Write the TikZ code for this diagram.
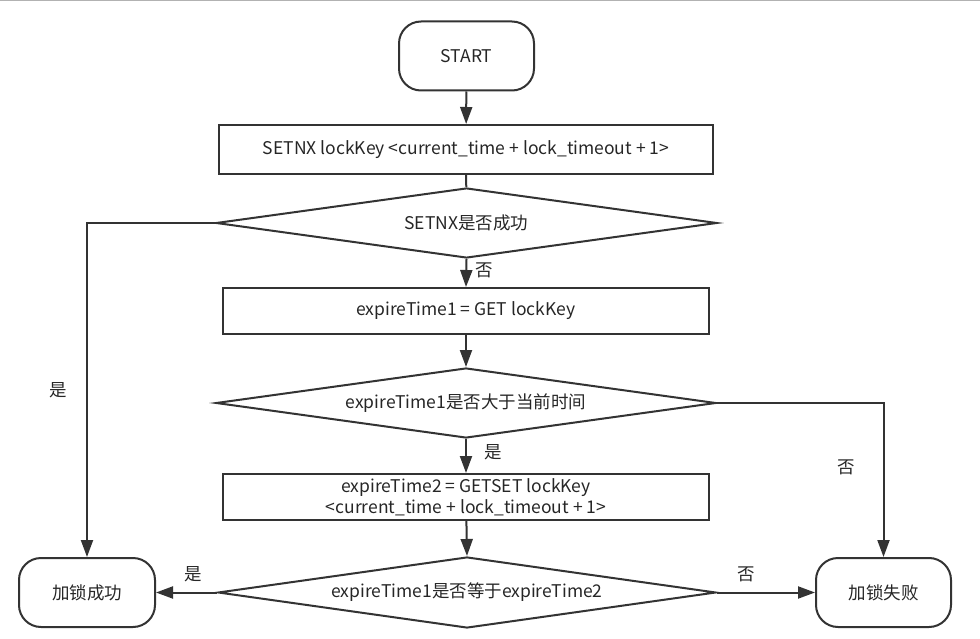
\documentclass[tikz,border=0pt]{standalone}
\usepackage{fontspec}
\setmainfont{Noto Sans CJK SC}
\usetikzlibrary{shapes.geometric,arrows.meta}

\begin{document}
\begin{tikzpicture}[x=1pt,y=-1pt,
    line width=2pt, draw=black!80,
    every node/.style={font=\fontsize{17.5}{21}\selectfont, text=black!85},
    term/.style={draw, rectangle, rounded corners=22pt, minimum width=135pt, minimum height=69pt},
    proc/.style={draw, rectangle, minimum width=486pt, minimum height=46pt, align=center, inner sep=0pt},
    test/.style={draw, diamond, aspect=7, inner sep=0pt, minimum width=500pt, minimum height=70pt},
    flow/.style={-{Triangle[length=17pt,width=12pt]}}]
    \useasboundingbox (0,0) rectangle (980,639);
    \draw[black!30, line width=1pt] (0,0.5) -- (980,0.5);
    \node[term] (start) at (466.5,56) {START};
    \node[proc, minimum width=494pt, minimum height=49pt] (setnx) at (466,149.5) {SETNX lockKey <current\_time + lock\_timeout + 1>};
    \node[test, minimum width=501pt] (isset) at (466.5,223) {SETNX是否成功};
    \node[proc] (get) at (466,311) {expireTime1 = GET lockKey};
    \node[test] (expired) at (466,403) {expireTime1是否大于当前时间};
    \node[proc, inner sep=1pt] (getset) at (466,497) {expireTime2 = GETSET lockKey\\[0pt] <current\_time + lock\_timeout + 1>};
    \node[test, minimum width=498pt, minimum height=71pt] (same) at (467,592.5) {expireTime1是否等于expireTime2};
    \node[term, minimum width=136pt] (ok) at (87,592.5) {加锁成功};
    \node[term] (fail) at (883.5,592.5) {加锁失败};
    \draw[flow] (start) -- (setnx);
    \draw (setnx) -- (isset);
    \draw[flow] (isset.west) -| node[pos=0.75, left=16pt] {是} (ok.north);
    \draw[flow] (isset.south) -- node[pos=0.4, right=5pt] {否} (get.north);
    \draw[flow] (get) -- (expired.north);
    \draw[flow] (expired.east) -| node[pos=0.71, left=24pt] {否} (fail.north);
    \draw[flow] (expired.south) -- node[pos=0.39, right=14pt] {是} (getset.north);
    \draw[flow] (getset) -- (same.north);
    \draw[flow] (same.west) -- node[pos=0.39, above=6pt] {是} (ok.east);
    \draw[flow] (same.east) -- node[pos=0.3, above=6pt] {否} (fail.west);
\end{tikzpicture}
\end{document}
